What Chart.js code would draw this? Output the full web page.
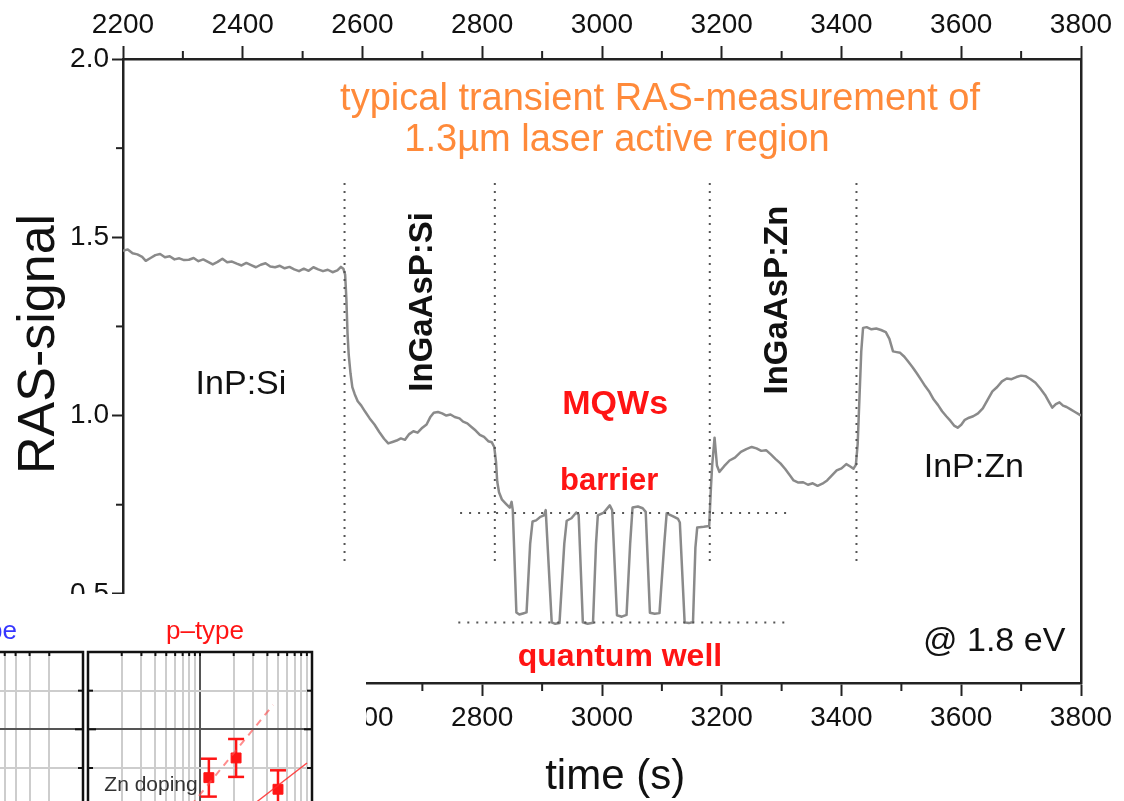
<!DOCTYPE html>
<html>
<head>
<meta charset="utf-8">
<title>Transient RAS measurement</title>
<script src="https://cdn.jsdelivr.net/npm/chart.js@4.4.1/dist/chart.umd.min.js"></script>
<style>
  html, body { margin: 0; padding: 0; background: #fff; }
  #wrap { position: relative; width: 1124px; height: 801px; overflow: hidden; }
  #main { position: absolute; left: 0; top: 0; }
  #inset { position: absolute; left: 0; top: 594px; width: 366px; height: 207px; background: #fff; overflow: hidden; }
  #nPanel { position: absolute; left: -40px; top: 0; }
  #pPanel { position: absolute; left: 86px; top: 0; }
</style>
</head>
<body>
<div id="wrap">
  <canvas id="main" width="1124" height="801"></canvas>
  <div id="inset">
    <canvas id="nPanel" width="126" height="290"></canvas>
    <canvas id="pPanel" width="230" height="290"></canvas>
  </div>
</div>
<script>
// ------------------------------------------------------------
// Data
// ------------------------------------------------------------
const timeS = [
  2200, 2208, 2216, 2224, 2232, 2238, 2246, 2254, 2262, 2270, 2278, 2286, 2294, 2302, 2310, 2318,
  2326, 2334, 2342, 2350, 2358, 2366, 2374, 2382, 2390, 2398, 2406, 2414, 2422, 2430, 2438, 2446,
  2454, 2462, 2470, 2478, 2486, 2494, 2502, 2510, 2518, 2526, 2534, 2542, 2550, 2558, 2564, 2568,
  2571, 2573, 2575, 2577, 2580, 2583, 2587, 2592, 2598, 2604, 2612, 2620, 2628, 2636, 2643, 2650,
  2657, 2664, 2671, 2678, 2685, 2692, 2700, 2707, 2713, 2719, 2726, 2733, 2740, 2747, 2754, 2762,
  2768, 2775, 2782, 2789, 2796, 2803, 2810, 2816, 2820, 2823, 2825, 2828, 2833, 2840, 2846, 2849,
  2851, 2857, 2862, 2868, 2874, 2880, 2884, 2890, 2897, 2903, 2906, 2916, 2922, 2929, 2937, 2941,
  2949, 2957, 2961, 2968, 2976, 2985, 2990, 2993, 3003, 3013, 3017, 3025, 3033, 3041, 3047, 3051,
  3060, 3068, 3073, 3080, 3088, 3096, 3104, 3108, 3118, 3127, 3130, 3138, 3145, 3152, 3156, 3159,
  3170, 3179, 3182, 3184, 3188, 3192, 3196, 3204, 3213, 3222, 3232, 3241, 3250, 3258, 3266, 3274,
  3282, 3290, 3298, 3306, 3314, 3320, 3328, 3336, 3344, 3352, 3360, 3368, 3376, 3384, 3392, 3400,
  3408, 3414, 3420, 3424, 3427, 3430, 3433, 3436, 3442, 3450, 3458, 3466, 3474, 3480, 3486, 3492,
  3498, 3505, 3512, 3519, 3526, 3533, 3540, 3547, 3554, 3561, 3568, 3575, 3582, 3588, 3594, 3600,
  3606, 3613, 3620, 3628, 3636, 3644, 3652, 3660, 3668, 3676, 3684, 3692, 3700, 3708, 3716, 3724,
  3732, 3740, 3746, 3752, 3758, 3764, 3770, 3776, 3782, 3790, 3796, 3800
];
const rasSignal = [
  1.462, 1.466, 1.455, 1.452, 1.445, 1.434, 1.442, 1.450, 1.453, 1.444, 1.447, 1.438, 1.441, 1.436, 1.437, 1.442,
  1.433, 1.438, 1.431, 1.424, 1.431, 1.440, 1.430, 1.432, 1.426, 1.421, 1.428, 1.422, 1.416, 1.423, 1.427, 1.418,
  1.416, 1.420, 1.413, 1.417, 1.410, 1.405, 1.412, 1.406, 1.416, 1.410, 1.405, 1.409, 1.402, 1.407, 1.417, 1.412,
  1.395, 1.330, 1.230, 1.170, 1.118, 1.080, 1.060, 1.040, 1.028, 1.012, 0.992, 0.975, 0.954, 0.935, 0.922, 0.926,
  0.930, 0.936, 0.932, 0.948, 0.956, 0.952, 0.966, 0.975, 0.995, 1.008, 1.010, 1.006, 1.000, 1.003, 0.996, 0.992,
  0.983, 0.978, 0.968, 0.958, 0.946, 0.940, 0.928, 0.925, 0.912, 0.870, 0.815, 0.785, 0.764, 0.752, 0.742, 0.758,
  0.735, 0.448, 0.442, 0.445, 0.448, 0.640, 0.703, 0.706, 0.716, 0.720, 0.735, 0.420, 0.416, 0.418, 0.640, 0.705,
  0.712, 0.728, 0.722, 0.420, 0.416, 0.419, 0.640, 0.720, 0.728, 0.748, 0.735, 0.440, 0.436, 0.441, 0.640, 0.742,
  0.745, 0.740, 0.730, 0.447, 0.444, 0.446, 0.640, 0.726, 0.718, 0.710, 0.700, 0.420, 0.418, 0.421, 0.630, 0.686,
  0.688, 0.690, 0.800, 0.860, 0.938, 0.860, 0.842, 0.858, 0.874, 0.882, 0.898, 0.906, 0.912, 0.908, 0.901, 0.903,
  0.891, 0.878, 0.866, 0.850, 0.832, 0.818, 0.812, 0.813, 0.806, 0.810, 0.803, 0.809, 0.818, 0.832, 0.846, 0.852,
  0.864, 0.858, 0.851, 0.862, 0.920, 1.050, 1.180, 1.246, 1.248, 1.242, 1.244, 1.240, 1.234, 1.215, 1.180, 1.178,
  1.176, 1.165, 1.150, 1.135, 1.118, 1.100, 1.082, 1.066, 1.045, 1.030, 1.012, 0.998, 0.985, 0.972, 0.966, 0.974,
  0.988, 0.994, 0.998, 1.006, 1.020, 1.044, 1.068, 1.080, 1.096, 1.104, 1.102, 1.108, 1.112, 1.110, 1.102, 1.092,
  1.076, 1.058, 1.040, 1.022, 1.032, 1.037, 1.028, 1.024, 1.018, 1.010, 1.004, 1.000
];

// layer boundaries (dotted verticals)
const layerEdgeX = [2570, 2821, 3180, 3425];
const layerEdgeTop = [1.652, 1.652, 1.652, 1.652];
const layerEdgeBottom = [0.592, 0.592, 0.592, 0.592];

// barrier and well levels (dotted horizontals)
const levelY = [0.727, 0.420];
const levelFrom = [2763, 2760];
const levelTo = [3314, 3314];

// axes
const xTicks = [2200, 2400, 2600, 2800, 3000, 3200, 3400, 3600, 3800];
const xMinor = [2300, 2500, 2700, 2900, 3100, 3300, 3500, 3700];
const yTicks = [0.5, 1.0, 1.5, 2.0];
const yMinor = [0.75, 1.25, 1.75];

// inset, p-type panel (Zn doping)
const dopingP = [1.2e18, 2.1e18, 4.97e18];
const valueP = [-1.25, -0.74, -1.55];
const errP = [0.49, 0.49, 0.49];
const dashFitX = [5.9e17, 4.49e18];
const dashFitY = [-2.5, 0.63];
const solidFitX = [1.69e18, 9.02e18];
const solidFitY = [-2.5, -0.87];
const insetYTicks = [-4, -3, -2, -1, 0, 1, 2];
const mantissas = [1, 2, 3, 4, 5, 6, 7, 8, 9];

// ------------------------------------------------------------
// Styles
// ------------------------------------------------------------
const FONT = "'Liberation Sans', Arial, sans-serif";
const C = {
  ink: '#111111',
  axis: '#222222',
  trace: '#8a8a8a',
  dots: '#555555',
  orange: '#ff8a3a',
  red: '#ff1414',
  blue: '#3636ff',
  grid: '#cdcdcd',
  gridMajor: '#555555',
};

function text(ctx, t, x, y, font, color, rot, align) {
  ctx.save();
  ctx.translate(x, y);
  if (rot) ctx.rotate(rot);
  ctx.font = font;
  ctx.fillStyle = color;
  ctx.textAlign = align || 'center';
  ctx.textBaseline = 'middle';
  ctx.fillText(t, 0, 0);
  ctx.restore();
}

function seg(ctx, x1, y1, x2, y2) {
  ctx.beginPath();
  ctx.moveTo(x1, y1);
  ctx.lineTo(x2, y2);
  ctx.stroke();
}

// ------------------------------------------------------------
// Main chart
// ------------------------------------------------------------
const notes = [
  { t: 'typical transient RAS-measurement of', x: 3097, y: 1.885, font: '38px ' + FONT, color: C.orange },
  { t: '1.3µm laser active region', x: 3025, y: 1.770, font: '38px ' + FONT, color: C.orange },
  { t: 'InP:Si', x: 2397, y: 1.086, font: '34px ' + FONT, color: C.ink },
  { t: 'InP:Zn', x: 3621, y: 0.853, font: '34px ' + FONT, color: C.ink },
  { t: 'InGaAsP:Si', x: 2701, y: 1.319, font: 'bold 33px ' + FONT, color: C.ink, rot: -Math.PI / 2 },
  { t: 'InGaAsP:Zn', x: 3294, y: 1.324, font: 'bold 33px ' + FONT, color: C.ink, rot: -Math.PI / 2 },
  { t: 'MQWs', x: 3022, y: 1.030, font: 'bold 34px ' + FONT, color: C.red },
  { t: 'barrier', x: 3012, y: 0.814, font: 'bold 31px ' + FONT, color: C.red },
  { t: 'quantum well', x: 3030, y: 0.323, font: 'bold 32px ' + FONT, color: C.red },
  { t: '@ 1.8 eV', x: 3655, y: 0.365, font: '34px ' + FONT, color: C.ink },
];

const mainDecor = {
  id: 'mainDecor',
  afterDraw(chart) {
    const { ctx, chartArea: a, scales } = chart;
    const x = scales.x, y = scales.y;
    ctx.save();
    ctx.strokeStyle = C.axis;
    ctx.lineWidth = 2;
    xMinor.forEach(v => {
      const p = x.getPixelForValue(v);
      seg(ctx, p, a.top, p, a.top - 8);
      seg(ctx, p, a.bottom, p, a.bottom + 8);
    });
    yMinor.forEach(v => {
      const p = y.getPixelForValue(v);
      seg(ctx, a.left, p, a.left - 7, p);
    });
    ctx.restore();

    notes.forEach(n => text(ctx, n.t, x.getPixelForValue(n.x), y.getPixelForValue(n.y), n.font, n.color, n.rot));

    // axis titles
    text(ctx, 'time (s)', x.getPixelForValue(3022), a.bottom + 94, '42px ' + FONT, C.ink);
    text(ctx, 'RAS-signal', 40, y.getPixelForValue(1.201), '52px ' + FONT, C.ink, -Math.PI / 2);
  }
};

const dotted = (pts, dash) => ({
  data: pts,
  borderColor: C.dots,
  borderWidth: 2,
  borderDash: dash,
  pointRadius: 0,
  fill: false,
});

const datasets = [];
layerEdgeX.forEach((v, i) => datasets.push(dotted([{ x: v, y: layerEdgeTop[i] }, { x: v, y: layerEdgeBottom[i] }], [2, 6])));
levelY.forEach((v, i) => datasets.push(dotted([{ x: levelFrom[i], y: v }, { x: levelTo[i], y: v }], [2, 7])));
datasets.push({
  label: 'RAS-signal',
  data: timeS.map((t, i) => ({ x: t, y: rasSignal[i] })),
  borderColor: C.trace,
  borderWidth: 2.5,
  borderJoinStyle: 'round',
  pointRadius: 0,
  tension: 0,
  fill: false,
});

const tickFont = { family: FONT, size: 28 };
const xAxis = (position, height, pad) => ({
  type: 'linear',
  position: position,
  min: 2200,
  max: 3800,
  afterBuildTicks: s => { s.ticks = xTicks.map(v => ({ value: v })); },
  afterFit: s => { s.height = height; },
  ticks: { autoSkip: false, maxRotation: 0, padding: pad, font: tickFont, color: C.ink, callback: v => String(v) },
  grid: { drawOnChartArea: false, drawTicks: true, tickLength: 13, tickWidth: 2, tickColor: C.axis },
  border: { display: true, width: 2.5, color: C.axis },
});

new Chart(document.getElementById('main'), {
  type: 'line',
  data: { datasets: datasets },
  options: {
    responsive: false,
    animation: false,
    plugins: { legend: { display: false }, tooltip: { enabled: false } },
    scales: {
      x: xAxis('bottom', 118, 5),
      xTop: xAxis('top', 59, 4),
      y: {
        position: 'left',
        min: 0.25,
        max: 2.0,
        afterBuildTicks: s => { s.ticks = yTicks.map(v => ({ value: v })); },
        afterFit: s => { s.width = 123; },
        ticks: { padding: 3, font: tickFont, color: C.ink, callback: v => v.toFixed(1) },
        grid: { drawOnChartArea: false, drawTicks: true, tickLength: 11, tickWidth: 2, tickColor: C.axis },
        border: { display: true, width: 2.5, color: C.axis },
      },
      yRight: {
        position: 'right',
        min: 0.25,
        max: 2.0,
        afterFit: s => { s.width = 43; },
        ticks: { display: false },
        grid: { display: false },
        border: { display: true, width: 2.5, color: C.axis },
      },
    },
  },
  plugins: [mainDecor],
});

// ------------------------------------------------------------
// Inset: n-type / p-type panels
// ------------------------------------------------------------
function logGrid(min, max) {
  const out = [];
  for (let e = Math.floor(Math.log10(min)); e <= Math.ceil(Math.log10(max)); e++) {
    mantissas.forEach(m => {
      const v = m * Math.pow(10, e);
      if (v >= min * 0.999 && v <= max * 1.001) out.push({ value: v, major: m === 1 });
    });
  }
  return out;
}

const gridColor = c => (c.tick && c.tick.major ? C.gridMajor : C.grid);

const insetScales = (xMin, xMax, reverse) => ({
  x: {
    type: 'logarithmic',
    reverse: reverse,
    min: xMin,
    max: xMax,
    afterBuildTicks: s => { s.ticks = logGrid(xMin, xMax); },
    afterFit: s => { s.height = 0; },
    ticks: { display: false },
    grid: { color: gridColor, lineWidth: 2, drawTicks: false },
    border: { display: false },
  },
  y: {
    min: -4,
    max: 2,
    afterBuildTicks: s => { s.ticks = insetYTicks.map(v => ({ value: v, major: v % 2 === 0 })); },
    afterFit: s => { s.width = 0; },
    ticks: { display: false },
    grid: { color: gridColor, lineWidth: 2, drawTicks: false },
    border: { display: false },
  },
});

// frame + small inner ticks, and the panel's own labels
function panelFrame(drawLabels) {
  return {
    id: 'panelFrame',
    afterDraw(chart) {
      const { ctx, chartArea: a, scales } = chart;
      ctx.save();
      ctx.strokeStyle = C.ink;
      ctx.lineWidth = 2.5;
      ctx.strokeRect(a.left, a.top, a.right - a.left, a.bottom - a.top);
      ctx.lineWidth = 2;
      [1, 0, -1].forEach(v => {
        const p = scales.y.getPixelForValue(v);
        const len = v === 0 ? 8 : 5;
        seg(ctx, a.left, p, a.left + len, p);
        seg(ctx, a.right, p, a.right - len, p);
      });
      scales.x.ticks.forEach(t => {
        const p = scales.x.getPixelForValue(t.value);
        seg(ctx, p, a.top, p, a.top + 4);
      });
      ctx.restore();
      drawLabels(ctx);
    }
  };
}

const errorBars = {
  id: 'errorBars',
  beforeDatasetsDraw(chart) {
    const { ctx, scales } = chart;
    ctx.save();
    ctx.strokeStyle = C.red;
    ctx.lineWidth = 2.5;
    dopingP.forEach((v, i) => {
      const px = scales.x.getPixelForValue(v);
      const hi = scales.y.getPixelForValue(valueP[i] + errP[i]);
      const lo = scales.y.getPixelForValue(valueP[i] - errP[i]);
      seg(ctx, px, hi, px, lo);
      seg(ctx, px - 8, hi, px + 8, hi);
      seg(ctx, px - 8, lo, px + 8, lo);
    });
    ctx.restore();
  }
};

new Chart(document.getElementById('nPanel'), {
  type: 'scatter',
  data: { datasets: [] },
  options: {
    responsive: false,
    animation: false,
    layout: { autoPadding: false, padding: { top: 58, right: 3, left: 0, bottom: 0 } },
    plugins: { legend: { display: false }, tooltip: { enabled: false } },
    scales: insetScales(1e17, 1.254e18, true),
  },
  plugins: [panelFrame(ctx => text(ctx, 'n–type', 57, 38, '26px ' + FONT, C.blue, 0, 'right'))],
});

new Chart(document.getElementById('pPanel'), {
  type: 'scatter',
  data: {
    datasets: [
      {
        data: dashFitX.map((v, i) => ({ x: v, y: dashFitY[i] })),
        showLine: true,
        borderColor: 'rgba(255, 80, 80, 0.65)',
        borderWidth: 2,
        borderDash: [7, 6],
        pointRadius: 0,
      },
      {
        data: solidFitX.map((v, i) => ({ x: v, y: solidFitY[i] })),
        showLine: true,
        borderColor: 'rgba(255, 40, 40, 0.85)',
        borderWidth: 1.5,
        pointRadius: 0,
      },
      {
        data: dopingP.map((v, i) => ({ x: v, y: valueP[i] })),
        pointStyle: 'rect',
        pointRadius: 7,
        backgroundColor: C.red,
        borderColor: C.red,
      },
    ],
  },
  options: {
    responsive: false,
    animation: false,
    layout: { autoPadding: false, padding: { top: 58, right: 4, left: 2, bottom: 0 } },
    plugins: { legend: { display: false }, tooltip: { enabled: false } },
    scales: insetScales(1e17, 1e19, false),
  },
  plugins: [errorBars, panelFrame(ctx => {
    text(ctx, 'p–type', 119, 38, '26px ' + FONT, C.red);
    text(ctx, 'Zn doping', 65, 191, '21px ' + FONT, '#333333');
  })],
});
</script>
</body>
</html>
